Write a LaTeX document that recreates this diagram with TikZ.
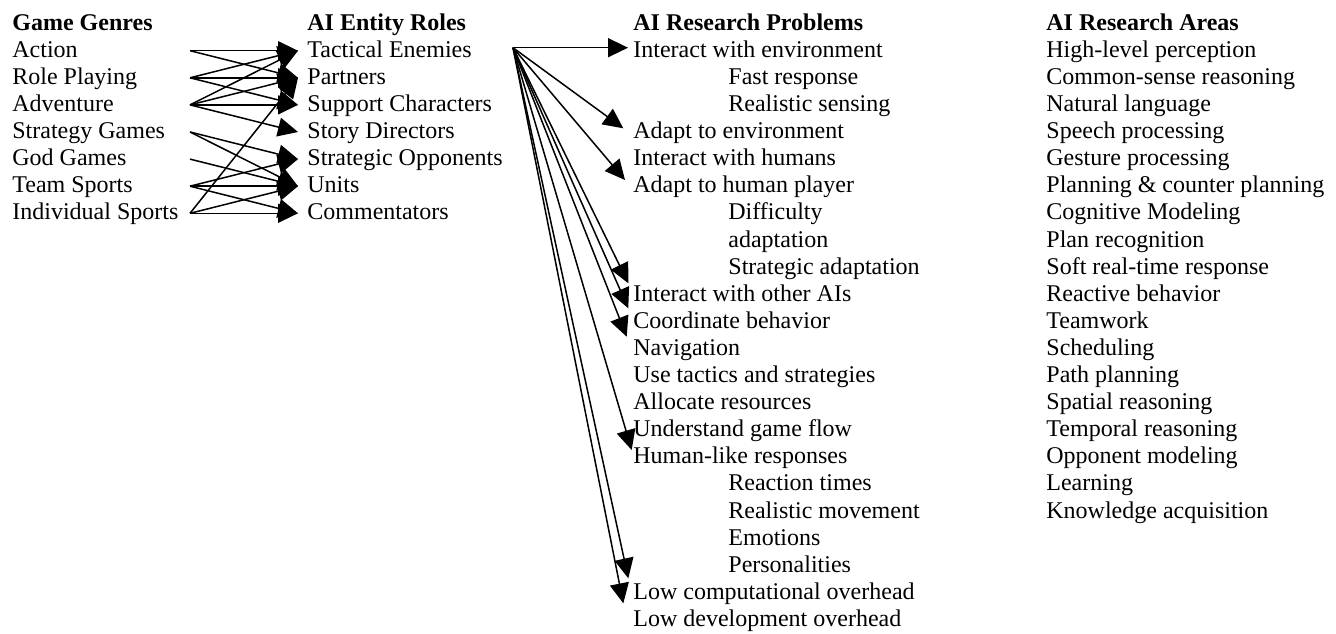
\documentclass[tikz,border=0pt]{standalone}
\usepackage{fontspec}
\setmainfont{Liberation Serif}
\usetikzlibrary{arrows.meta}
\begin{document}
\begin{tikzpicture}[x=0.5pt,y=-0.5pt,
  item/.style={anchor=base west,inner sep=0pt,font=\fontsize{12}{13.5}\selectfont},
  head/.style={item,font=\fontsize{12}{13.5}\selectfont\bfseries},
  link/.style={line width=0.75pt,-{Triangle[length=10pt,width=9.5pt]}}]
\useasboundingbox (0,0) rectangle (1336,633);
% headers
\node[head] (h1) at (12,30.2) {Game Genres};
\node[head] (h2) at (307,30.2) {AI Entity Roles};
\node[head] (h3) at (633,30.2) {AI Research Problems};
\node[head] (h4) at (1046,30.2) {AI Research Areas};
% column 1
\foreach \t [count=\i] in {Action,Role Playing,Adventure,Strategy Games,God Games,Team Sports,Individual Sports}
  \node[item] (g\i) at (12,{30.2+27.1*\i}) {\t};
% column 2
\foreach \t [count=\i] in {Tactical Enemies,Partners,Support Characters,Story Directors,Strategic Opponents,Units,Commentators}
  \node[item] (r\i) at (307,{30.2+27.1*\i}) {\t};
% column 3
\foreach \t/\x [count=\i] in {Interact with environment/633,Fast response/728,Realistic sensing/728,
  Adapt to environment/633,Interact with humans/633,Adapt to human player/633,Difficulty/728,
  adaptation/728,Strategic adaptation/728,Interact with other AIs/633,Coordinate behavior/633,
  Navigation/633,Use tactics and strategies/633,Allocate resources/633,Understand game flow/633,
  Human-like responses/633,Reaction times/728,Realistic movement/728,Emotions/728,
  Personalities/728,Low computational overhead/633,Low development overhead/633}
  \node[item] (p\i) at (\x,{30.2+27.1*\i}) {\t};
% column 4
\foreach \t [count=\i] in {High-level perception,Common-sense reasoning,Natural language,
  Speech processing,Gesture processing,Planning \& counter planning,Cognitive Modeling,
  Plan recognition,Soft real-time response,Reactive behavior,Teamwork,Scheduling,
  Path planning,Spatial reasoning,Temporal reasoning,Opponent modeling,Learning,
  Knowledge acquisition}
  \node[item] (a\i) at (1046,{30.2+27.1*\i}) {\t};
% connector ends, left fan
\foreach \i in {1,...,7}{
  \coordinate (gs\i) at (190,{50.7+27.1*(\i-1)});
  \coordinate (re\i) at (298,{50.7+27.1*(\i-1)});
}
\foreach \a/\b in {1/1,1/2,2/1,2/2,2/3,3/1,3/2,3/3,3/4,4/5,4/6,5/6,6/5,6/6,6/7,7/2,7/6,7/7}
  \draw[link] (gs\a) -- (re\b);
% right fan
\coordinate (o) at (513,47.7);
\coordinate (t1) at (628,47.7);
\coordinate (t2) at (623.3,128.3);
\coordinate (t3) at (625,180);
\coordinate (t4) at (628.3,283.3);
\coordinate (t5) at (628.3,308.3);
\coordinate (t6) at (626.7,336.7);
\coordinate (t7) at (631.7,450);
\coordinate (t8) at (628.3,578.3);
\coordinate (t9) at (623.3,603.3);
\foreach \j in {1,...,9}
  \draw[link] (o) -- (t\j);
\end{tikzpicture}
\end{document}
